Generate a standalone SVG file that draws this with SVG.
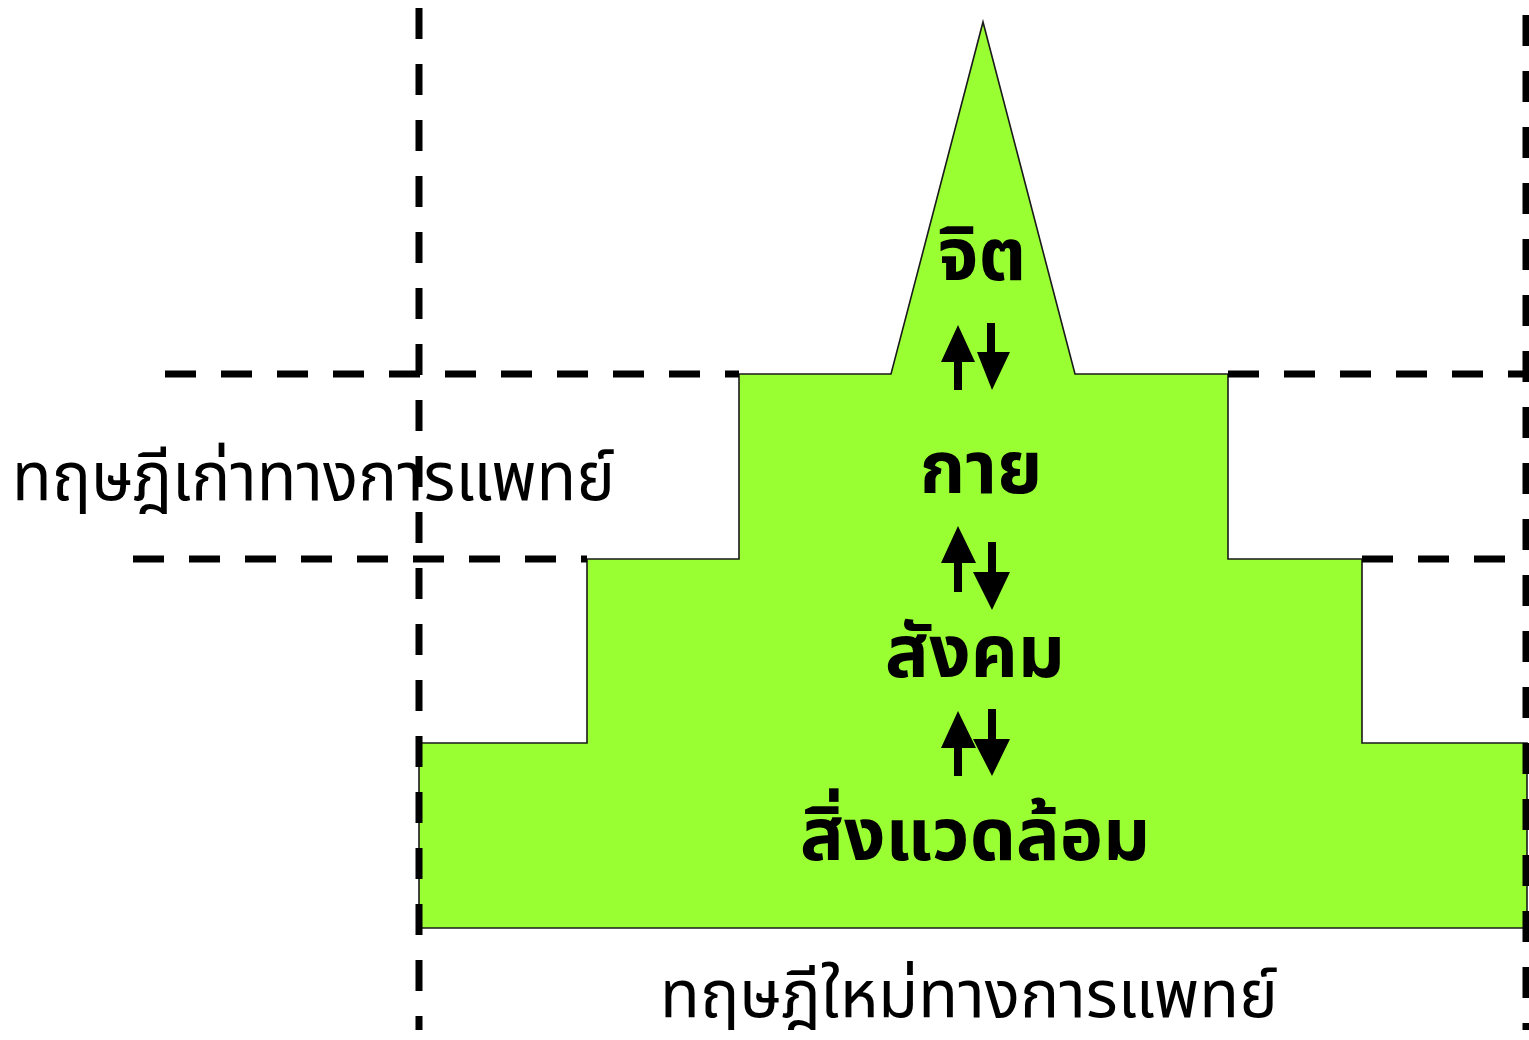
<svg xmlns="http://www.w3.org/2000/svg" width="1529" height="1040" viewBox="0 0 1529 1040">
<style>
.shape{fill:#99ff33;stroke:#1a1a1a;stroke-width:1.6}
.guide{stroke:#000;stroke-width:7;stroke-dasharray:31 25;fill:none}
.lbl{font-family:"Noto Sans Thai","Noto Sans","Liberation Sans",sans-serif;font-weight:bold;fill:#000;text-anchor:middle}
.side{font-family:"Noto Sans Thai","Noto Sans","Liberation Sans",sans-serif;font-weight:normal;fill:#000}
.arr{fill:#000}
</style>
<rect width="1529" height="1040" fill="#fff"/>
<g id="pyramid">
<polygon class="shape" points="983,22 1075,374 1228,374 1228,559 1362,559 1362,743 1527,743 1527,928 419,928 419,743 587,743 587,559 739,559 739,374 891,374"/>
</g>
<g id="label-old">
<text class="side" x="12" y="500" font-size="68" textLength="603" lengthAdjust="spacingAndGlyphs">ทฤษฎีเก่าทางการแพทย์</text>
</g>
<g id="label-new">
<text class="side" x="660" y="1017" font-size="66" textLength="618" lengthAdjust="spacingAndGlyphs">ทฤษฎีใหม่ทางการแพทย์</text>
</g>
<g id="node-mind"><text class="lbl" x="982" y="280" font-size="73">จิต</text></g>
<g id="node-body"><text class="lbl" x="981" y="493" font-size="73">กาย</text></g>
<g id="node-society"><text class="lbl" x="975" y="677" font-size="73">สังคม</text></g>
<g id="node-env"><text class="lbl" x="975" y="860" font-size="73">สิ่งแวดล้อม</text></g>
<g id="guides">
<line class="guide" x1="419" y1="8" x2="419" y2="1030"/>
<line class="guide" x1="1526" y1="15" x2="1526" y2="1030"/>
<line class="guide" x1="165" y1="374" x2="739" y2="374"/>
<line class="guide" x1="1228" y1="374" x2="1529" y2="374"/>
<line class="guide" x1="133" y1="559" x2="587" y2="559"/>
<line class="guide" x1="1362" y1="559" x2="1529" y2="559"/>
</g>
<g id="connectors">
<polygon class="arr" points="958,325 975,362 962,362 962,390 954,390 954,362 941,362"/>
<polygon class="arr" points="987,323 995,323 995,352 1010,352 992,390 977,352 987,352"/>
<polygon class="arr" points="958,526 976,563 962,563 962,592 954,592 954,563 941,563"/>
<polygon class="arr" points="988,542 996,542 996,572 1010,572 992,610 973,572 988,572"/>
<polygon class="arr" points="958,711 976,748 962,748 962,776 954,776 954,748 941,748"/>
<polygon class="arr" points="988,709 996,709 996,739 1010,739 992,776 973,739 988,739"/>
</g>
</svg>
